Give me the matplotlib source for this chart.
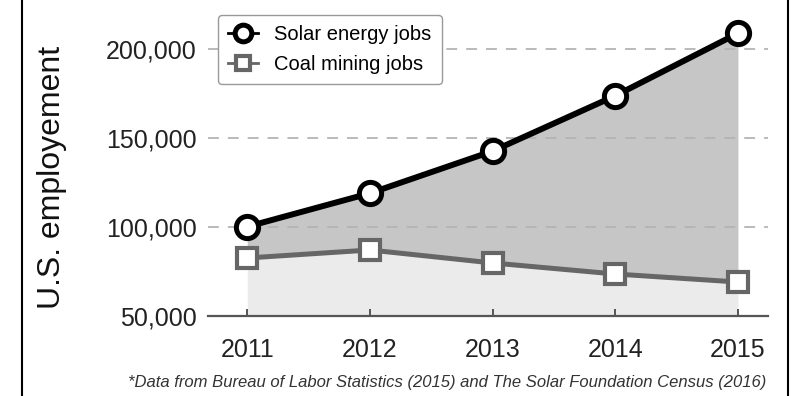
import matplotlib
matplotlib.use("Agg")
import matplotlib.pyplot as plt
from matplotlib.lines import Line2D
from matplotlib.ticker import FuncFormatter

years = [2011, 2012, 2013, 2014, 2015]
solar_jobs = [100200, 119000, 142700, 173800, 208900]
coal_jobs = [82600, 87100, 79800, 73600, 69100]
yticks = [50000, 100000, 150000, 200000]

plt.rcParams['font.family'] = ['Liberation Sans', 'DejaVu Sans']

fig = plt.figure(figsize=(7.96, 3.96), dpi=100)
ax = fig.add_axes([208 / 796, 80 / 396, 560 / 796, 306 / 396])

# shaded areas
ax.fill_between(years, 50000, coal_jobs, color='#ebebeb', lw=0, zorder=1)
ax.fill_between(years, coal_jobs, solar_jobs, color='#c6c6c6', lw=0, zorder=1)

for y in yticks[1:]:
    ax.axhline(y, color='#b4b4b4', lw=1.3, ls=(0, (6, 5)), zorder=2)

ax.plot(years, coal_jobs, color='#666666', lw=3.6, marker='s', ms=14,
        mfc='white', mec='#666666', mew=3.0, zorder=4, label='Coal mining jobs')
ax.plot(years, solar_jobs, color='black', lw=4.3, marker='o', ms=16,
        mfc='white', mec='black', mew=3.6, zorder=5, label='Solar energy jobs')

ax.set_xlim(2010.68, 2015.245)
ax.set_ylim(50000, 222000)
ax.set_xticks(years)
ax.set_yticks(yticks)
ax.yaxis.set_major_formatter(FuncFormatter(lambda v, p: f"{int(v):,}"))

for s in ['top', 'right', 'left']:
    ax.spines[s].set_visible(False)
ax.spines['bottom'].set_color('#555555')
ax.spines['bottom'].set_linewidth(1.6)
ax.spines['bottom'].set_zorder(6)
ax.tick_params(axis='x', direction='in', length=5, width=1.4, color='#555555',
               labelsize=18, pad=16, labelcolor='#222222')
ax.tick_params(axis='y', length=0, labelsize=18, pad=8, labelcolor='#222222')

handles, labels = ax.get_legend_handles_labels()
leg = ax.legend(handles[::-1], labels[::-1], loc='upper left',
                bbox_to_anchor=(218 / 796, 1 - 15 / 396), bbox_transform=fig.transFigure,
                borderaxespad=0, fontsize=14.5, handlelength=1.5, handletextpad=0.8,
                markerscale=0.75, fancybox=True, framealpha=1, edgecolor='#999999',
                borderpad=0.5, labelspacing=0.55)
leg.get_frame().set_linewidth(1.0)
leg.set_zorder(10)
for h in leg.legend_handles:
    h.set_linewidth(2.0)

fig.text(52 / 796, 1 - 177 / 396, 'U.S. employement', rotation=90,
         ha='center', va='center', fontsize=23, color='#111111')
fig.text(766 / 796, 1 - 382 / 396,
         '*Data from Bureau of Labor Statistics (2015) and The Solar Foundation Census (2016)',
         ha='right', va='center', fontsize=12, style='italic', color='#333333')

# frame edges on both sides of the picture
fig.add_artist(Line2D([22 / 796, 22 / 796], [0, 1], color='black', lw=1.5))
fig.add_artist(Line2D([788 / 796, 788 / 796], [0, 1], color='black', lw=1.5))

fig.savefig('out.png', dpi=100)
